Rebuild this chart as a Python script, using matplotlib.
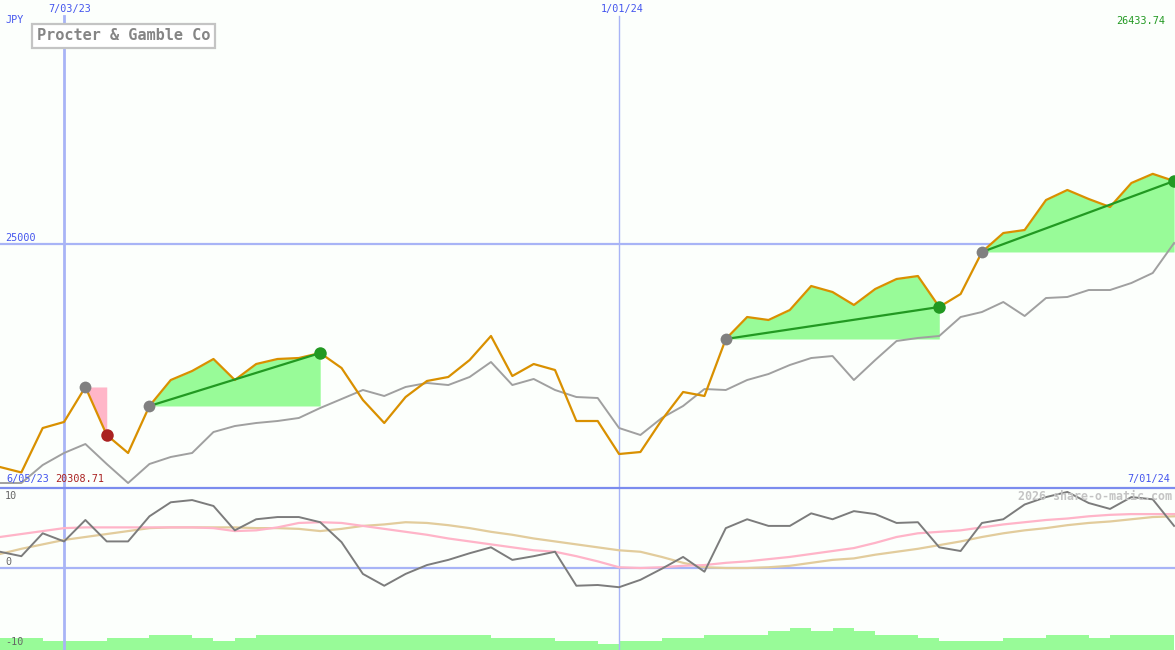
"""Weekly price chart with trade signals and a momentum panel underneath."""

from __future__ import annotations

import matplotlib

matplotlib.use("Agg")

import matplotlib.dates as mdates
import matplotlib.pyplot as plt
import pandas as pd
from matplotlib.lines import Line2D

START_DATE = "2023-06-12"
END_DATE = "2024-07-01"
MARKER_DATES = ["2023-07-03", "2024-01-01"]

# weekly close, JPY
price = [
    20420, 20309, 21220, 21344, 22062, 21077, 20708, 21672, 22205, 22390,
    22636, 22205, 22533, 22636, 22656, 22759, 22451, 21795, 21323, 21856,
    22185, 22267, 22615, 23108, 22287, 22533, 22410, 21364, 21364, 20687,
    20728, 21385, 21959, 21877, 23046, 23497, 23436, 23641, 24133, 24010,
    23744, 24072, 24277, 24338, 23703, 23969, 24831, 25220, 25282, 25897,
    26103, 25918, 25754, 26246, 26434, 26287,
]
price_high = 26433.74
price_low = 20308.71

# comparison line (grey)
benchmark = [
    20092, 20092, 20461, 20708, 20892, 20482, 20092, 20482, 20626, 20708,
    21138, 21261, 21323, 21364, 21426, 21631, 21815, 22000, 21877, 22062,
    22144, 22102, 22267, 22574, 22102, 22226, 22000, 21856, 21836, 21220,
    21077, 21426, 21672, 22020, 22000, 22205, 22328, 22513, 22656, 22697,
    22205, 22615, 23005, 23067, 23108, 23497, 23600, 23805, 23518, 23887,
    23908, 24051, 24051, 24195, 24400, 25015,
]

momentum = [
    2.2, 1.6, 4.7, 3.6, 6.5, 3.6, 3.6, 7.0, 8.9, 9.2,
    8.4, 5.1, 6.6, 6.9, 6.9, 6.2, 3.5, -0.8, -2.4, -0.8,
    0.4, 1.1, 2.0, 2.8, 1.1, 1.6, 2.2, -2.4, -2.3, -2.6,
    -1.6, -0.1, 1.5, -0.5, 5.4, 6.6, 5.7, 5.7, 7.4, 6.6,
    7.7, 7.3, 6.1, 6.2, 2.8, 2.3, 6.1, 6.6, 8.6, 9.6,
    10.3, 8.8, 8.0, 9.6, 9.3, 5.7,
]

signal_fast = [
    4.2, 4.6, 5.0, 5.4, 5.5, 5.5, 5.5, 5.5, 5.5, 5.5,
    5.4, 5.0, 5.1, 5.5, 6.1, 6.2, 6.1, 5.7, 5.3, 4.9,
    4.5, 4.0, 3.6, 3.2, 2.8, 2.4, 2.2, 1.6, 0.9, 0.1,
    0.0, 0.1, 0.3, 0.4, 0.7, 0.9, 1.2, 1.5, 1.9, 2.3,
    2.7, 3.4, 4.2, 4.7, 4.9, 5.1, 5.5, 5.9, 6.2, 6.5,
    6.7, 7.0, 7.2, 7.3, 7.3, 7.3,
]

signal_slow = [
    1.9, 2.6, 3.2, 3.8, 4.2, 4.6, 5.0, 5.4, 5.5, 5.5,
    5.5, 5.5, 5.4, 5.4, 5.3, 5.0, 5.3, 5.7, 5.9, 6.2,
    6.1, 5.8, 5.4, 4.9, 4.5, 4.0, 3.6, 3.2, 2.8, 2.4,
    2.2, 1.5, 0.7, 0.1, 0.0, 0.0, 0.1, 0.3, 0.7, 1.1,
    1.3, 1.8, 2.2, 2.6, 3.1, 3.6, 4.2, 4.7, 5.1, 5.4,
    5.8, 6.1, 6.3, 6.6, 6.9, 7.0,
]

# relative weekly volume
volume = [
    3.8, 3.8, 2.8, 2.8, 2.8, 3.8, 3.8, 4.7, 4.7, 3.8,
    2.8, 3.8, 4.7, 4.7, 4.7, 4.7, 4.7, 4.7, 4.7, 4.7,
    4.7, 4.7, 4.7, 3.8, 3.8, 3.8, 2.8, 2.8, 2.0, 2.8,
    2.8, 3.8, 3.8, 4.7, 4.7, 4.7, 5.9, 7.0, 5.9, 7.0,
    5.9, 4.7, 4.7, 3.8, 2.8, 2.8, 2.8, 3.8, 3.8, 4.7,
    4.7, 3.8, 4.7, 4.7, 4.7,
]

# trades: week index of entry and exit
entry_idx = [4, 7, 34, 46]
exit_idx = [5, 15, 44, 55]

BG = "#fcfffc"
ORANGE = "#d99000"
GREY = "#a0a0a0"
BLUE_TXT = "#4455ee"
LIGHT_BLUE = "#a8b4f6"
MID_BLUE = "#7b8cee"
WIN_FILL = "#98fb98"
LOSS_FILL = "#ffb6c8"
WIN_DOT = "#229922"
LOSS_DOT = "#aa2222"
MONO = "DejaVu Sans Mono"

W, H = 1175, 650


def px_text(fig, x, y, s, **kw):
    """Put text at pixel position (origin top-left)."""
    kw.setdefault("family", MONO)
    kw.setdefault("fontsize", 7.3)
    kw.setdefault("va", "center")
    return fig.text(x / W, 1 - y / H, s, **kw)


def clean(ax):
    ax.set_facecolor("none")
    for sp in ax.spines.values():
        sp.set_visible(False)
    ax.set_xticks([])
    ax.set_yticks([])


def main():
    dates = pd.date_range(START_DATE, END_DATE, freq="7D")
    xnum = mdates.date2num(dates)
    xlim = (mdates.date2num(pd.Timestamp(START_DATE)), mdates.date2num(pd.Timestamp(END_DATE)) + 0.3)

    fig = plt.figure(figsize=(W / 100, H / 100), dpi=100, facecolor=BG)
    ax_p = fig.add_axes([0, 0.25, 1, 0.75])
    ax_m = fig.add_axes([0, 0, 1, 0.25])
    ax_v = ax_m.twinx()
    for ax in (ax_p, ax_m, ax_v):
        clean(ax)
        ax.set_xlim(xlim)

    ax_p.set_ylim(20000, 30000)
    ax_m.set_ylim(-11.1, 10.9)
    ax_v.set_ylim(0, 50.8)

    # grid lines
    ax_p.axhline(25000, color=LIGHT_BLUE, lw=1.6, zorder=1)
    ax_m.axhline(0, color=LIGHT_BLUE, lw=1.6, zorder=1)
    for d, lw in zip(MARKER_DATES, [2.0, 1.0]):
        xd = mdates.date2num(pd.Timestamp(d))
        ax_p.axvline(xd, ymax=0.967, color=LIGHT_BLUE, lw=lw, zorder=1)
        ax_m.axvline(xd, color=LIGHT_BLUE, lw=lw, zorder=1)
    fig.add_artist(Line2D([0, 1], [0.25, 0.25], transform=fig.transFigure,
                          color=MID_BLUE, lw=1.6, zorder=5))

    # trades
    for e, x in zip(entry_idx, exit_idx):
        win = price[x] >= price[e]
        ax_p.fill_between(xnum[e:x + 1], price[e:x + 1], price[e],
                          color=WIN_FILL if win else LOSS_FILL, lw=0, zorder=2)

    ax_p.plot(xnum, benchmark, color=GREY, lw=1.4, zorder=3)
    ax_p.plot(xnum, price, color=ORANGE, lw=1.6, zorder=4)

    for e, x in zip(entry_idx, exit_idx):
        win = price[x] >= price[e]
        if win:
            ax_p.plot([xnum[e], xnum[x]], [price[e], price[x]], color=WIN_DOT, lw=1.6, zorder=5)
        ax_p.plot(xnum[e], price[e], "o", color="#808080", ms=8.5, mec="none", zorder=6)
        ax_p.plot(xnum[x], price[x], "o", color=WIN_DOT if win else LOSS_DOT, ms=9,
                  mec="none", zorder=6)

    # lower panel
    ax_v.bar(xnum[:len(volume)], volume, width=7, align="edge", color=WIN_FILL, lw=0, zorder=1)
    ax_m.plot(xnum, signal_slow, color="#e2cc9c", lw=1.6, zorder=3)
    ax_m.plot(xnum, signal_fast, color="#ffb4c8", lw=1.6, zorder=3)
    ax_m.plot(xnum, momentum, color="#7c7c7c", lw=1.4, zorder=4)
    ax_m.set_zorder(ax_v.get_zorder() + 1)

    # labels
    px_text(fig, 5, 20, "JPY", color=BLUE_TXT)
    px_text(fig, 48, 9, "7/03/23", color=BLUE_TXT)
    px_text(fig, 601, 9, "1/01/24", color=BLUE_TXT)
    px_text(fig, 1165, 21, f"{price_high:.2f}", color=WIN_DOT, ha="right")
    px_text(fig, 5, 238, "25000", color=BLUE_TXT)
    px_text(fig, 6, 479, "6/05/23", color=BLUE_TXT)
    px_text(fig, 55, 479, f"{price_low:.2f}", color=LOSS_DOT)
    px_text(fig, 1170, 479, "7/01/24", color=BLUE_TXT, ha="right")
    px_text(fig, 1172, 497, "2026 share-o-matic.com", color="#c4c4c4", ha="right",
            fontsize=8.4, weight="bold")
    px_text(fig, 5, 496, "10", color="#666666")
    px_text(fig, 5, 562, "0", color="#666666")
    px_text(fig, 5, 642, "-10", color="#666666")

    px_text(fig, 37, 36, "Procter & Gamble Co", color="#858585", fontsize=11, weight="bold",
            bbox=dict(boxstyle="square,pad=0.3", fc="white", ec="#c4c4c4", lw=1.6))

    fig.savefig("out.png", dpi=100, facecolor=BG)


if __name__ == "__main__":
    main()
